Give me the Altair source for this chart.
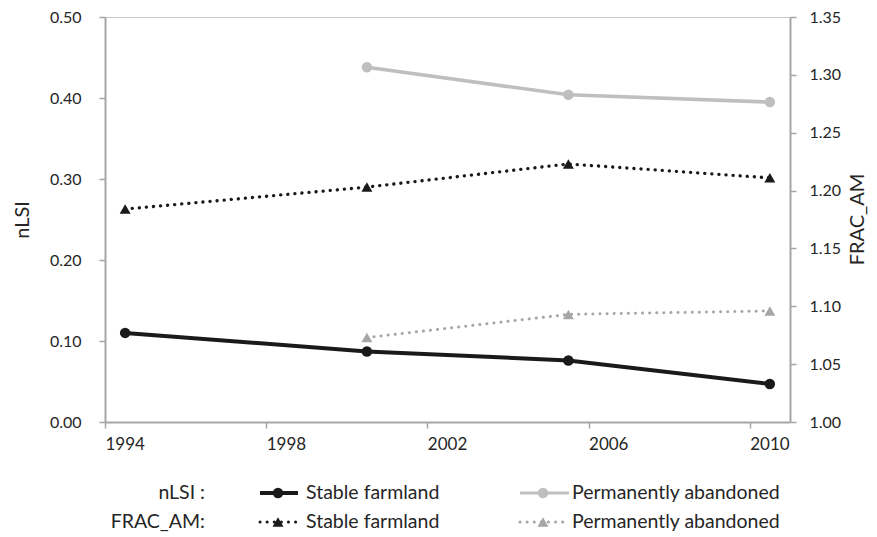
import altair as alt
import pandas as pd

# ---- data ----
years_stable = [1994.5, 2000.5, 2005.5, 2010.5]
years_abandoned = [2000.5, 2005.5, 2010.5]
nlsi_stable = [0.110, 0.087, 0.076, 0.047]
nlsi_abandoned = [0.438, 0.404, 0.395]
frac_stable = [1.184, 1.203, 1.223, 1.211]
frac_abandoned = [1.073, 1.093, 1.096]
x_ticks = [1994, 1998, 2002, 2006, 2010]
nlsi_ticks = [0.0, 0.1, 0.2, 0.3, 0.4, 0.5]
frac_ticks = [1.00, 1.05, 1.10, 1.15, 1.20, 1.25, 1.30, 1.35]
series_names = ["Stable farmland", "Permanently abandoned"]

FONT = "Lato"
TXT = "#262626"
AX = "#a6a6a6"

keys = ["nLSI|Stable farmland", "nLSI|Permanently abandoned",
        "FRAC|Stable farmland", "FRAC|Permanently abandoned"]
colors = ["#1a1a1a", "#bfbfbf", "#1a1a1a", "#a6a6a6"]
widths = [4, 3, 3, 3]

df_nlsi = pd.DataFrame({
    "year": years_stable + years_abandoned,
    "value": nlsi_stable + nlsi_abandoned,
    "key": [keys[0]] * len(years_stable) + [keys[1]] * len(years_abandoned),
})
df_frac = pd.DataFrame({
    "year": years_stable + years_abandoned,
    "value": frac_stable + frac_abandoned,
    "key": [keys[2]] * len(years_stable) + [keys[3]] * len(years_abandoned),
})

x_enc = alt.X("year:Q", scale=alt.Scale(domain=[1994, 2011], nice=False, zero=False),
              axis=alt.Axis(values=x_ticks, format="d", title=None, grid=False,
                            labelAlign="left", labelFlush=False, labelPadding=8,
                            tickSize=6, labelFontSize=17))
color_enc = alt.Color("key:N", scale=alt.Scale(domain=keys, range=colors), legend=None)
width_enc = alt.StrokeWidth("key:N", scale=alt.Scale(domain=keys, range=widths), legend=None)

nlsi = alt.Chart(df_nlsi).mark_line(
    point=alt.OverlayMarkDef(filled=True, size=110, shape="circle", opacity=1)
).encode(
    x=x_enc,
    y=alt.Y("value:Q", scale=alt.Scale(domain=[0, 0.5], nice=False),
            axis=alt.Axis(values=nlsi_ticks, format=".2f", title="nLSI", grid=False,
                          orient="left", tickSize=6, labelPadding=18, titlePadding=17)),
    color=color_enc,
    strokeWidth=width_enc,
    detail="key:N",
)

frac = alt.Chart(df_frac).mark_line(
    strokeDash=[0.1, 7], strokeCap="round",
    point=alt.OverlayMarkDef(filled=True, size=120, shape="triangle-up", opacity=1)
).encode(
    x=x_enc,
    y=alt.Y("value:Q", scale=alt.Scale(domain=[1.0, 1.35], nice=False, zero=False),
            axis=alt.Axis(values=frac_ticks, format=".2f", title="FRAC_AM", grid=False,
                          orient="right", tickSize=6, labelPadding=13,
                          titleAngle=270, titleX=67, titleY=202, titleBaseline="middle",
                          titleAlign="center")),
    color=color_enc,
    strokeWidth=width_enc,
    detail="key:N",
)

# ---- custom legend (below plot area) ----
one = pd.DataFrame({"k": [0]})
row_y = [476, 505]
row_labels = ["nLSI :", "FRAC_AM:"]
col_x = [(155, 193, 173, 201), (415, 464, 438, 467)]
LFS = 19.5
legend_layers = []
for r, lab in enumerate(row_labels):
    legend_layers.append(
        alt.Chart(one).mark_text(align="right", baseline="middle", font=FONT,
                                 fontSize=LFS, color=TXT, text=lab)
        .encode(x=alt.value(100), y=alt.value(row_y[r]))
    )
    for c, name in enumerate(series_names):
        k = r * 2 + c
        x1, x2, xm, xt = col_x[c]
        if r == 0:
            rule = alt.Chart(one).mark_rule(color=colors[k], strokeWidth=widths[k])
            shape, size = "circle", 110
        else:
            rule = alt.Chart(one).mark_rule(color=colors[k], strokeWidth=widths[k],
                                             strokeDash=[0.1, 7], strokeCap="round")
            shape, size = "triangle-up", 120
        legend_layers.append(rule.encode(x=alt.value(x1), x2=alt.value(x2),
                                         y=alt.value(row_y[r])))
        legend_layers.append(
            alt.Chart(one).mark_point(filled=True, opacity=1, shape=shape, size=size,
                                      color=colors[k])
            .encode(x=alt.value(xm), y=alt.value(row_y[r]))
        )
        legend_layers.append(
            alt.Chart(one).mark_text(align="left", baseline="middle", font=FONT,
                                     fontSize=LFS, color=TXT, text=name)
            .encode(x=alt.value(xt), y=alt.value(row_y[r]))
        )

chart = alt.layer(nlsi, frac, *legend_layers).resolve_scale(
    y="independent"
).properties(
    width=685, height=405,
    autosize=alt.AutoSizeParams(type="none"),
    padding={"left": 97, "top": 9, "right": 79, "bottom": 112},
    background="white",
).configure_view(
    stroke="#c8c8c8", strokeWidth=1
).configure_axis(
    labelFont=FONT, titleFont=FONT, labelFontSize=16, titleFontSize=20,
    labelColor=TXT, titleColor=TXT, titleFontWeight="normal",
    domainColor=AX, domainWidth=2, tickColor=AX, tickWidth=1.5,
)

chart.save("out.html", embed_options={"renderer": "svg", "actions": False})
